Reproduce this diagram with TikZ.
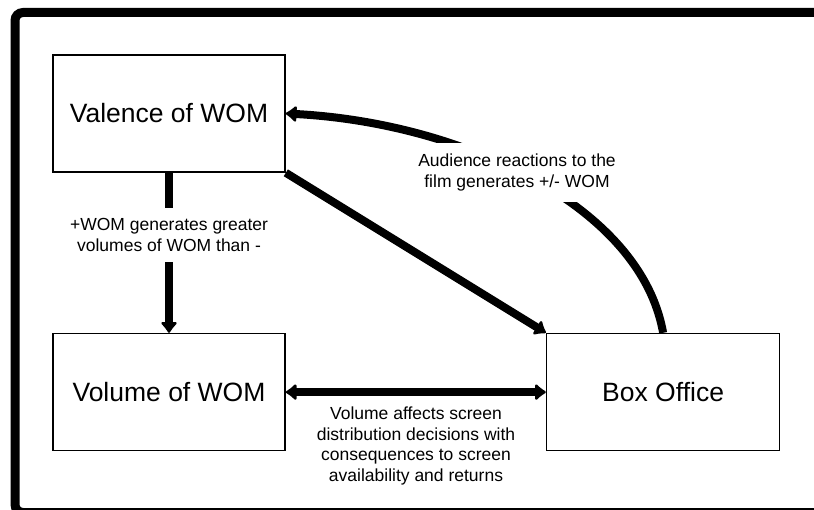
\documentclass[tikz,border=0pt]{standalone}
\usepackage{fontspec}
\setmainfont{Liberation Sans}
\usetikzlibrary{positioning,arrows.meta}

\begin{document}
\begin{tikzpicture}[x=1pt,y=1pt,
	n_box/.style={
		rectangle,
		draw=black,
		line width=1.6pt,
		minimum width=232pt,
		minimum height=117pt,
		inner sep=0pt,
		font=\fontsize{26.5}{30}\selectfont,
		},
	n_lbl/.style={
		align=center,
		fill=white,
		inner xsep=3pt,
		inner ysep=11pt,
		font=\fontsize{17.5}{20.5}\selectfont,
		},
	c_arr/.style={
		line width=8pt,
		-{Latex[round,length=12pt,width=20pt]},
		}]

	\clip (0,0) rectangle (814,-510);
	\draw[line width=9pt, rounded corners=8pt] (15,-12.5) rectangle (840,-512.5);

	\node(valence)[n_box] at (169,-113.5) {Valence of WOM};
	\node(volume)[n_box, below=160pt of valence] {Volume of WOM};
	\node(boxoffice)[n_box, right=260pt of volume, minimum width=233pt] {Box Office};

	\path (valence) edge[c_arr] (volume);
	\path (valence.south east) edge[c_arr] (boxoffice.north west);
	\path (boxoffice.north) edge[c_arr, out=100, in=-3, out looseness=0.75, in looseness=1.05] (valence.east);
	\path (volume) edge[c_arr, {Latex[round,length=12pt,width=20pt]}-{Latex[round,length=12pt,width=20pt]}] (boxoffice);

	\node(valvol)[n_lbl] at (169,-235) {+WOM generates greater\\volumes of WOM than -};
	\node(reaction)[n_lbl, inner xsep=8pt] at (517,-172.5) {Audience reactions to the\\film generates +/- WOM};
	\node(screens)[n_lbl, fill=none, inner sep=0pt] at (416,-446) {Volume affects screen\\distribution decisions with\\consequences to screen\\availability and returns};

\end{tikzpicture}
\end{document}
